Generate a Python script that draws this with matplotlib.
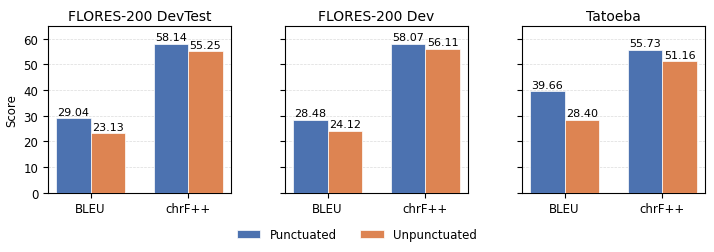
import matplotlib
matplotlib.use('Agg')
import matplotlib.pyplot as plt
import numpy as np

datasets = ['FLORES-200 DevTest', 'FLORES-200 Dev', 'Tatoeba']
metrics = ['BLEU', 'chrF++']
punctuated = [[29.04, 58.14], [28.48, 58.07], [39.66, 55.73]]
unpunctuated = [[23.13, 55.25], [24.12, 56.11], [28.40, 51.16]]

blue = '#4C72B0'
orange = '#DD8452'

fig, axes = plt.subplots(1, 3, figsize=(7.14, 2.53), dpi=100, sharey=True)
fig.subplots_adjust(left=48/714, right=705/714, top=1-27/253, bottom=1-193.7/253,
                    wspace=54/183)

x = np.arange(len(metrics))
w = 0.35
for i, ax in enumerate(axes):
    b1 = ax.bar(x - w/2, punctuated[i], w, color=blue, edgecolor='white',
                linewidth=0.5, label='Punctuated', zorder=3)
    b2 = ax.bar(x + w/2, unpunctuated[i], w, color=orange, edgecolor='white',
                linewidth=0.5, label='Unpunctuated', zorder=3)
    ax.bar_label(b1, labels=[f'{v:.2f}' for v in punctuated[i]], padding=1, fontsize=8)
    ax.bar_label(b2, labels=[f'{v:.2f}' for v in unpunctuated[i]], padding=1, fontsize=8)
    ax.set_title(datasets[i], fontsize=10, pad=4)
    ax.set_xticks(x)
    ax.set_xticklabels(metrics, fontsize=8.5)
    ax.tick_params(axis='y', labelsize=8.5)
    ax.grid(axis='y', linestyle='--', linewidth=0.5, color='#cccccc', alpha=0.7, zorder=0)
    ax.set_ylim(0, 65)
    ax.set_yticks(range(0, 61, 10))

axes[0].set_ylabel('Score', fontsize=8.5)

handles, labels = axes[0].get_legend_handles_labels()
fig.legend(handles, labels, loc='lower center', ncol=2, frameon=False,
           fontsize=8.5, bbox_to_anchor=(0.5, 0.0), columnspacing=2)

plt.savefig('out.png', dpi=100)
